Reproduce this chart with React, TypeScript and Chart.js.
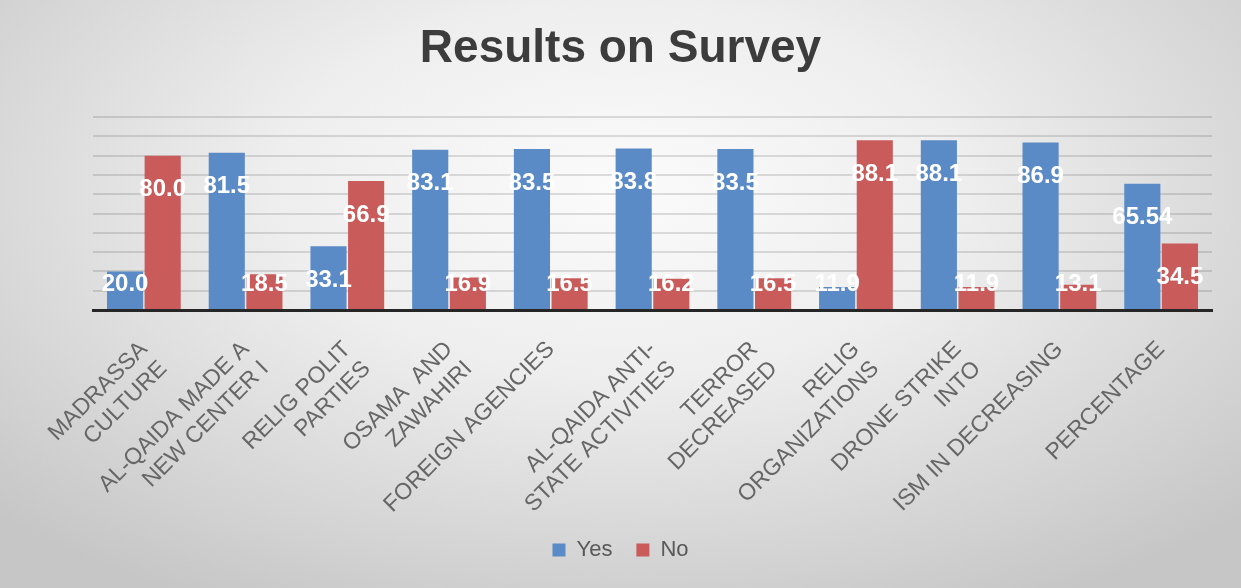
import React, { useEffect, useRef } from "react";
import { Chart, registerables } from "chart.js";

Chart.register(...registerables);

const categories: (string | string[])[] = [
  ["MADRASSA", "CULTURE"],
  ["AL-QAIDA MADE A", "NEW CENTER I"],
  ["RELIG POLIT", "PARTIES"],
  ["OSAMA  AND", "ZAWAHIRI"],
  "FOREIGN AGENCIES",
  ["AL-QAIDA ANTI-", "STATE ACTIVITIES"],
  ["TERROR", "DECREASED"],
  ["RELIG", "ORGANIZATIONS"],
  ["DRONE STRIKE", "INTO"],
  "ISM IN DECREASING",
  "PERCENTAGE",
];

const yesValues = [20.0, 81.5, 33.1, 83.1, 83.5, 83.8, 83.5, 11.9, 88.1, 86.9, 65.54];
const noValues = [80.0, 18.5, 66.9, 16.9, 16.5, 16.2, 16.5, 88.1, 11.9, 13.1, 34.5];

const seriesNames = ["Yes", "No"];
const yTicks = { min: 0, max: 100, step: 10 };

const fmt = (v: number) => (Math.round(v * 10) === v * 10 ? v.toFixed(1) : String(v));

const dataLabelPlugin = {
  id: "dataLabels",
  afterDatasetsDraw(chart: any) {
    const { ctx } = chart;
    ctx.save();
    ctx.font = "bold 24px 'Liberation Sans', Arial, sans-serif";
    ctx.fillStyle = "#ffffff";
    ctx.textAlign = "center";
    ctx.textBaseline = "middle";
    chart.data.datasets.forEach((ds: any, di: number) => {
      const meta = chart.getDatasetMeta(di);
      meta.data.forEach((el: any, i: number) => {
        const base = el.base;
        const y = Math.min(el.y + 34, base - 25);
        ctx.fillText(fmt(ds.data[i]), el.x, y);
      });
    });
    ctx.restore();
  },
};

export default function App() {
  const ref = useRef<HTMLCanvasElement | null>(null);
  useEffect(() => {
    document.body.style.margin = "0";
    if (!ref.current) return;
    const chart = new Chart(ref.current, {
      type: "bar",
      data: {
        labels: categories,
        datasets: [
          {
            label: seriesNames[0],
            data: yesValues,
            backgroundColor: "#5b8bc7",
            borderWidth: 0,
            barPercentage: 0.96,
            categoryPercentage: 0.74,
          },
          {
            label: seriesNames[1],
            data: noValues,
            backgroundColor: "#c95c5b",
            borderWidth: 0,
            barPercentage: 0.96,
            categoryPercentage: 0.74,
          },
        ],
      },
      plugins: [dataLabelPlugin],
      options: {
        animation: false,
        responsive: false,
        maintainAspectRatio: false,
        layout: { padding: { left: 29, right: 29, top: 0, bottom: 17 } },
        plugins: {
          title: {
            display: true,
            text: "Results on Survey",
            color: "#3c3c3c",
            font: { family: "'Liberation Sans', Arial, sans-serif", size: 46, weight: "bold" },
            padding: { top: 22, bottom: 40 },
          },
          legend: {
            position: "bottom",
            labels: {
              color: "#595959",
              font: { family: "'Liberation Sans', Arial, sans-serif", size: 22 },
              boxWidth: 13,
              boxHeight: 13,
              padding: 24,
            },
          },
          tooltip: { enabled: false },
        },
        scales: {
          x: {
            grid: { display: false },
            border: { display: true, color: "#262626", width: 3 },
            afterFit: (scale: any) => {
              scale.height = 205;
            },
            ticks: {
              autoSkip: false,
              maxRotation: 45,
              minRotation: 45,
              color: "#666666",
              padding: 18,
              font: { family: "'Liberation Sans', Arial, sans-serif", size: 23 },
            },
          },
          y: {
            min: yTicks.min,
            max: yTicks.max,
            afterFit: (scale: any) => {
              scale.width = 64;
            },
            ticks: { display: false, stepSize: yTicks.step },
            grid: { color: "rgba(0,0,0,0.12)", lineWidth: 2, drawTicks: false },
            border: { display: false },
          },
        },
      },
    });
    return () => chart.destroy();
  }, []);

  return (
    <div
      style={{
        width: 1241,
        height: 588,
        position: "relative",
        background:
          "radial-gradient(ellipse 70% 80% at 50% 32%, #fbfbfb 0%, #eeeeee 40%, #dadada 70%, #c6c6c6 100%)",
      }}
    >
      <canvas ref={ref} width={1241} height={588} style={{ display: "block" }} />
    </div>
  );
}
